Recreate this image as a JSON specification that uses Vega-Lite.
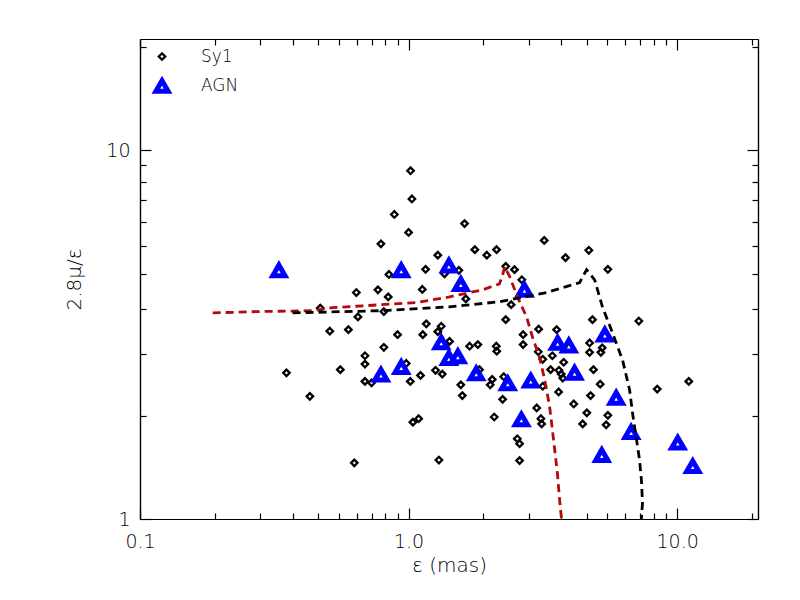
{
  "$schema": "https://vega.github.io/schema/vega-lite/v6.json",
  "width": 618,
  "height": 480,
  "autosize": "none",
  "padding": {"left": 140, "top": 39, "right": 42, "bottom": 81},
  "background": "white",
  "config": {
    "font": "DejaVu Sans",
    "view": {"stroke": null},
    "axis": {"grid": false, "domainColor": "black", "tickColor": "black", "labelColor": "black", "titleColor": "black", "domainWidth": 1.2, "tickWidth": 1.2, "labelFontSize": 19, "titleFontSize": 20, "titleFontWeight": 200, "labelFontWeight": 200},
    "legend": {"labelFontSize": 17, "labelColor": "black", "labelFontWeight": 200}
  },
  "datasets": {
    "sy1": [
      {"x": 1.017, "y": 8.79, "type": "Sy1"}, {"x": 1.029, "y": 7.37, "type": "Sy1"}, {"x": 0.885, "y": 6.69, "type": "Sy1"},
      {"x": 1.0, "y": 5.98, "type": "Sy1"}, {"x": 0.789, "y": 5.57, "type": "Sy1"}, {"x": 1.616, "y": 6.32, "type": "Sy1"},
      {"x": 1.285, "y": 5.19, "type": "Sy1"}, {"x": 1.765, "y": 5.37, "type": "Sy1"}, {"x": 1.956, "y": 5.19, "type": "Sy1"},
      {"x": 2.126, "y": 5.37, "type": "Sy1"}, {"x": 1.157, "y": 4.75, "type": "Sy1"}, {"x": 0.845, "y": 4.6, "type": "Sy1"},
      {"x": 1.361, "y": 4.62, "type": "Sy1"}, {"x": 1.539, "y": 4.72, "type": "Sy1"}, {"x": 0.639, "y": 4.11, "type": "Sy1"},
      {"x": 0.769, "y": 4.18, "type": "Sy1"}, {"x": 0.84, "y": 4.0, "type": "Sy1"}, {"x": 1.125, "y": 4.19, "type": "Sy1"},
      {"x": 1.634, "y": 3.95, "type": "Sy1"}, {"x": 0.469, "y": 3.73, "type": "Sy1"}, {"x": 0.809, "y": 3.65, "type": "Sy1"},
      {"x": 0.648, "y": 3.53, "type": "Sy1"}, {"x": 0.509, "y": 3.23, "type": "Sy1"}, {"x": 0.597, "y": 3.26, "type": "Sy1"},
      {"x": 0.91, "y": 3.16, "type": "Sy1"}, {"x": 1.164, "y": 3.38, "type": "Sy1"}, {"x": 1.13, "y": 3.16, "type": "Sy1"},
      {"x": 1.323, "y": 3.33, "type": "Sy1"}, {"x": 1.285, "y": 3.22, "type": "Sy1"}, {"x": 1.421, "y": 3.03, "type": "Sy1"},
      {"x": 0.809, "y": 2.92, "type": "Sy1"}, {"x": 1.687, "y": 2.94, "type": "Sy1"}, {"x": 1.811, "y": 2.97, "type": "Sy1"},
      {"x": 2.121, "y": 2.94, "type": "Sy1"}, {"x": 0.688, "y": 2.77, "type": "Sy1"}, {"x": 0.688, "y": 2.63, "type": "Sy1"},
      {"x": 0.351, "y": 2.49, "type": "Sy1"}, {"x": 0.557, "y": 2.54, "type": "Sy1"}, {"x": 0.98, "y": 2.64, "type": "Sy1"},
      {"x": 0.688, "y": 2.36, "type": "Sy1"}, {"x": 0.728, "y": 2.34, "type": "Sy1"}, {"x": 1.015, "y": 2.36, "type": "Sy1"},
      {"x": 1.108, "y": 2.45, "type": "Sy1"}, {"x": 1.26, "y": 2.53, "type": "Sy1"}, {"x": 1.335, "y": 2.47, "type": "Sy1"},
      {"x": 1.565, "y": 2.31, "type": "Sy1"}, {"x": 1.585, "y": 2.16, "type": "Sy1"}, {"x": 1.837, "y": 2.54, "type": "Sy1"},
      {"x": 2.049, "y": 2.39, "type": "Sy1"}, {"x": 2.014, "y": 2.31, "type": "Sy1"}, {"x": 0.429, "y": 2.15, "type": "Sy1"},
      {"x": 1.038, "y": 1.83, "type": "Sy1"}, {"x": 1.09, "y": 1.87, "type": "Sy1"}, {"x": 2.084, "y": 1.89, "type": "Sy1"},
      {"x": 0.628, "y": 1.42, "type": "Sy1"}, {"x": 1.297, "y": 1.445, "type": "Sy1"}, {"x": 3.2, "y": 5.69, "type": "Sy1"},
      {"x": 4.69, "y": 5.35, "type": "Sy1"}, {"x": 3.84, "y": 5.11, "type": "Sy1"}, {"x": 5.52, "y": 4.75, "type": "Sy1"},
      {"x": 2.3, "y": 4.84, "type": "Sy1"}, {"x": 2.48, "y": 4.74, "type": "Sy1"}, {"x": 2.64, "y": 4.45, "type": "Sy1"},
      {"x": 2.41, "y": 3.81, "type": "Sy1"}, {"x": 2.3, "y": 3.47, "type": "Sy1"}, {"x": 3.05, "y": 3.27, "type": "Sy1"},
      {"x": 3.56, "y": 3.26, "type": "Sy1"}, {"x": 4.84, "y": 3.47, "type": "Sy1"}, {"x": 7.2, "y": 3.44, "type": "Sy1"},
      {"x": 2.67, "y": 3.16, "type": "Sy1"}, {"x": 2.67, "y": 2.97, "type": "Sy1"}, {"x": 2.13, "y": 2.85, "type": "Sy1"},
      {"x": 4.72, "y": 3.0, "type": "Sy1"}, {"x": 4.72, "y": 2.83, "type": "Sy1"}, {"x": 5.26, "y": 2.91, "type": "Sy1"},
      {"x": 5.2, "y": 2.83, "type": "Sy1"}, {"x": 3.04, "y": 2.84, "type": "Sy1"}, {"x": 3.16, "y": 2.71, "type": "Sy1"},
      {"x": 3.43, "y": 2.77, "type": "Sy1"}, {"x": 3.78, "y": 2.66, "type": "Sy1"}, {"x": 3.38, "y": 2.54, "type": "Sy1"},
      {"x": 3.63, "y": 2.53, "type": "Sy1"}, {"x": 3.7, "y": 2.47, "type": "Sy1"}, {"x": 3.75, "y": 2.41, "type": "Sy1"},
      {"x": 4.88, "y": 2.54, "type": "Sy1"}, {"x": 5.17, "y": 2.32, "type": "Sy1"}, {"x": 2.26, "y": 2.43, "type": "Sy1"},
      {"x": 2.24, "y": 2.11, "type": "Sy1"}, {"x": 3.62, "y": 2.21, "type": "Sy1"}, {"x": 3.16, "y": 2.29, "type": "Sy1"},
      {"x": 4.76, "y": 2.16, "type": "Sy1"}, {"x": 4.12, "y": 2.05, "type": "Sy1"}, {"x": 3.0, "y": 2.0, "type": "Sy1"},
      {"x": 3.11, "y": 1.87, "type": "Sy1"}, {"x": 3.13, "y": 1.81, "type": "Sy1"}, {"x": 4.61, "y": 1.94, "type": "Sy1"},
      {"x": 5.52, "y": 1.91, "type": "Sy1"}, {"x": 4.45, "y": 1.81, "type": "Sy1"}, {"x": 5.44, "y": 1.8, "type": "Sy1"},
      {"x": 8.43, "y": 2.25, "type": "Sy1"}, {"x": 11.05, "y": 2.36, "type": "Sy1"}, {"x": 2.54, "y": 1.65, "type": "Sy1"},
      {"x": 2.59, "y": 1.6, "type": "Sy1"}, {"x": 2.59, "y": 1.44, "type": "Sy1"}
    ],
    "agn": [
      {"x": 0.329, "y": 4.72, "type": "AGN"}, {"x": 0.939, "y": 4.72, "type": "AGN"}, {"x": 1.413, "y": 4.86, "type": "AGN"},
      {"x": 1.565, "y": 4.33, "type": "AGN"}, {"x": 1.323, "y": 3.01, "type": "AGN"}, {"x": 1.413, "y": 2.73, "type": "AGN"},
      {"x": 1.526, "y": 2.76, "type": "AGN"}, {"x": 0.789, "y": 2.46, "type": "AGN"}, {"x": 0.939, "y": 2.58, "type": "AGN"},
      {"x": 1.786, "y": 2.48, "type": "AGN"}, {"x": 2.7, "y": 4.18, "type": "AGN"}, {"x": 3.59, "y": 3.0, "type": "AGN"},
      {"x": 3.95, "y": 2.95, "type": "AGN"}, {"x": 5.38, "y": 3.16, "type": "AGN"}, {"x": 4.15, "y": 2.49, "type": "AGN"},
      {"x": 2.34, "y": 2.33, "type": "AGN"}, {"x": 2.85, "y": 2.37, "type": "AGN"}, {"x": 5.93, "y": 2.13, "type": "AGN"},
      {"x": 2.63, "y": 1.86, "type": "AGN"}, {"x": 6.74, "y": 1.72, "type": "AGN"}, {"x": 5.24, "y": 1.49, "type": "AGN"},
      {"x": 10.05, "y": 1.61, "type": "AGN"}, {"x": 11.43, "y": 1.39, "type": "AGN"}
    ],
    "red": [
      {"i": 0, "x": 0.1865, "y": 3.62}, {"i": 1, "x": 0.279, "y": 3.65}, {"i": 2, "x": 0.439, "y": 3.67},
      {"i": 3, "x": 0.521, "y": 3.74}, {"i": 4, "x": 1.071, "y": 3.86}, {"i": 5, "x": 1.421, "y": 4.0},
      {"i": 6, "x": 1.886, "y": 4.18}, {"i": 7, "x": 2.18, "y": 4.34}, {"i": 8, "x": 2.24, "y": 4.59},
      {"i": 9, "x": 2.28, "y": 4.83}, {"i": 10, "x": 2.38, "y": 4.54}, {"i": 11, "x": 2.55, "y": 3.98},
      {"i": 12, "x": 2.75, "y": 3.53}, {"i": 13, "x": 2.89, "y": 3.12}, {"i": 14, "x": 3.07, "y": 2.75},
      {"i": 15, "x": 3.21, "y": 2.39}, {"i": 16, "x": 3.35, "y": 2.02}, {"i": 17, "x": 3.49, "y": 1.57},
      {"i": 18, "x": 3.58, "y": 1.335}, {"i": 19, "x": 3.65, "y": 1.128}, {"i": 20, "x": 3.71, "y": 1.0}
    ],
    "black": [
      {"i": 0, "x": 0.37, "y": 3.62}, {"i": 1, "x": 0.8, "y": 3.67}, {"i": 2, "x": 1.421, "y": 3.76},
      {"i": 3, "x": 2.18, "y": 3.88}, {"i": 4, "x": 3.26, "y": 4.11}, {"i": 5, "x": 4.33, "y": 4.37},
      {"i": 6, "x": 4.6, "y": 4.74}, {"i": 7, "x": 4.93, "y": 4.45}, {"i": 8, "x": 5.27, "y": 3.76},
      {"i": 9, "x": 5.74, "y": 3.2}, {"i": 10, "x": 6.26, "y": 2.7}, {"i": 11, "x": 6.65, "y": 2.24},
      {"i": 12, "x": 6.82, "y": 1.94}, {"i": 13, "x": 7.06, "y": 1.64}, {"i": 14, "x": 7.24, "y": 1.45},
      {"i": 15, "x": 7.36, "y": 1.278}, {"i": 16, "x": 7.43, "y": 1.107}, {"i": 17, "x": 7.36, "y": 1.0}
    ]
  },
  "resolve": {"axis": {"x": "independent", "y": "independent"}},
  "layer": [
    {
      "data": {"name": "sy1"},
      "mark": {"type": "point", "filled": false, "opacity": 1},
      "encoding": {
        "x": {"field": "x", "type": "quantitative",
              "scale": {"type": "log", "domain": [0.1, 20], "nice": false, "zero": false},
              "axis": {"orient": "bottom", "values": [0.1, 1, 10], "tickSize": -11, "labelPadding": 24, "labelFlush": false, "labelExpr": "datum.value < 0.5 ? '0.1' : (datum.value < 5 ? '1.0' : '10.0')", "title": "ε (mas)", "titlePadding": 4}},
        "y": {"field": "y", "type": "quantitative",
              "scale": {"type": "log", "domain": [1, 20], "nice": false, "zero": false},
              "axis": {"orient": "left", "values": [1, 10], "tickSize": -11, "labelPadding": 21, "labelExpr": "datum.value < 5 ? '1' : '10'", "title": "2.8μ/ε", "titlePadding": 21}},
        "shape": {"field": "type", "type": "ordinal", "scale": {"domain": ["Sy1", "AGN"], "range": ["diamond", "triangle-up"]},
                  "legend": {"title": null, "orient": "none", "legendX": 13, "legendY": 9, "rowPadding": 5, "labelOffset": 30, "padding": 0}},
        "color": {"field": "type", "type": "ordinal", "scale": {"domain": ["Sy1", "AGN"], "range": ["#000000", "#0000ff"]}},
        "size": {"field": "type", "type": "ordinal", "scale": {"type": "point", "domain": ["Sy1", "AGN"], "range": [42, 150], "padding": 0}},
        "strokeWidth": {"field": "type", "type": "ordinal", "scale": {"type": "point", "domain": ["Sy1", "AGN"], "range": [2.3, 5], "padding": 0}}
      }
    },
    {
      "data": {"name": "agn"},
      "mark": {"type": "point", "filled": false, "opacity": 1},
      "encoding": {
        "x": {"field": "x", "type": "quantitative",
              "scale": {"type": "log", "domain": [0.1, 20], "nice": false, "zero": false},
              "axis": {"orient": "bottom", "values": [0.19, 0.28, 0.37, 0.46, 0.55, 0.64, 0.73, 0.82, 0.91, 1.9, 2.8, 3.7, 4.6, 5.5, 6.4, 7.3, 8.2, 9.1, 19], "tickSize": -6, "labels": false, "title": null}},
        "y": {"field": "y", "type": "quantitative",
              "scale": {"type": "log", "domain": [1, 20], "nice": false, "zero": false},
              "axis": {"orient": "left", "values": [1.9, 2.8, 3.7, 4.6, 5.5, 6.4, 7.3, 8.2, 9.1, 19], "tickSize": -6, "labels": false, "title": null}},
        "shape": {"field": "type", "type": "ordinal", "scale": {"domain": ["Sy1", "AGN"], "range": ["diamond", "triangle-up"]}},
        "color": {"field": "type", "type": "ordinal", "scale": {"domain": ["Sy1", "AGN"], "range": ["#000000", "#0000ff"]}},
        "size": {"field": "type", "type": "ordinal", "scale": {"type": "point", "domain": ["Sy1", "AGN"], "range": [42, 150], "padding": 0}},
        "strokeWidth": {"field": "type", "type": "ordinal", "scale": {"type": "point", "domain": ["Sy1", "AGN"], "range": [2.3, 5], "padding": 0}}
      }
    },
    {
      "data": {"name": "red"},
      "mark": {"type": "line", "color": "#b40a0a", "strokeWidth": 2.8, "strokeDash": [8, 5]},
      "encoding": {
        "x": {"field": "x", "type": "quantitative",
              "scale": {"type": "log", "domain": [0.1, 20], "nice": false, "zero": false},
              "axis": {"orient": "top", "values": [0.1, 1, 10], "tickSize": -11, "labels": false, "title": null}},
        "y": {"field": "y", "type": "quantitative",
              "scale": {"type": "log", "domain": [1, 20], "nice": false, "zero": false},
              "axis": {"orient": "right", "values": [1, 10], "tickSize": -11, "labels": false, "title": null}},
        "order": {"field": "i", "type": "quantitative"}
      }
    },
    {
      "data": {"name": "black"},
      "mark": {"type": "line", "color": "#000000", "strokeWidth": 2.8, "strokeDash": [8, 5]},
      "encoding": {
        "x": {"field": "x", "type": "quantitative",
              "scale": {"type": "log", "domain": [0.1, 20], "nice": false, "zero": false},
              "axis": {"orient": "top", "values": [0.19, 0.28, 0.37, 0.46, 0.55, 0.64, 0.73, 0.82, 0.91, 1.9, 2.8, 3.7, 4.6, 5.5, 6.4, 7.3, 8.2, 9.1, 19], "tickSize": -6, "labels": false, "title": null}},
        "y": {"field": "y", "type": "quantitative",
              "scale": {"type": "log", "domain": [1, 20], "nice": false, "zero": false},
              "axis": {"orient": "right", "values": [1.9, 2.8, 3.7, 4.6, 5.5, 6.4, 7.3, 8.2, 9.1, 19], "tickSize": -6, "labels": false, "title": null}},
        "order": {"field": "i", "type": "quantitative"}
      }
    }
  ]
}
